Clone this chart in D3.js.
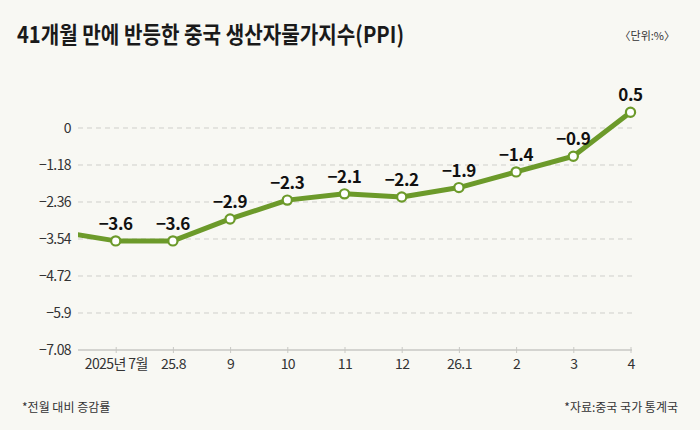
<!DOCTYPE html>
<html>
<head>
<meta charset="utf-8">
<script src="https://cdn.jsdelivr.net/npm/d3@7"></script>
<style>
  html, body { margin: 0; padding: 0; background: #f8f8f3; }
  svg { display: block; }
  text { font-family: "Noto Sans CJK KR", "Noto Sans", sans-serif; }
</style>
</head>
<body>
<div id="chart"></div>
<script>
// Chart data
const months = ["2025년 7월", "25.8", "9", "10", "11", "12", "26.1", "2", "3", "4"];
const values = [-3.6, -3.6, -2.9, -2.3, -2.1, -2.2, -1.9, -1.4, -0.9, 0.5];
const prevValue = -3.3; // June 2025, cut off at the left edge
const yTicks = [0, -1.18, -2.36, -3.54, -4.72, -5.9, -7.08];
const yTickLabels = ["0", "−1.18", "−2.36", "−3.54", "−4.72", "−5.9", "−7.08"];

const width = 700, height = 430;
const margin = {top: 128, right: 68, bottom: 80, left: 78};
const green = "#6c9a2a";

const svg = d3.select("#chart")
  .append("svg")
    .attr("width", width)
    .attr("height", height);

svg.append("rect")
  .attr("width", width).attr("height", height)
  .attr("fill", "#f8f8f3");

// Scales
const x = d3.scaleLinear()
  .domain([0, months.length - 1])
  .range([115.7, 630.5]);

const y = d3.scaleLinear()
  .domain([-7.08, 0])
  .range([height - margin.bottom, margin.top]);

// Title and unit
svg.append("text")
  .attr("x", 17).attr("y", 43)
  .attr("font-size", 23).attr("font-weight", 700)
  .attr("fill", "#1a1a1a")
  .attr("textLength", 387).attr("lengthAdjust", "spacingAndGlyphs")
  .text("41개월 만에 반등한 중국 생산자물가지수(PPI)");

svg.append("text")
  .attr("x", 675).attr("y", 40)
  .attr("text-anchor", "end")
  .attr("font-size", 11).attr("fill", "#333")
  .text("〈단위:%〉");

// Grid lines
svg.append("g")
  .selectAll("line")
  .data(yTicks.filter(d => d !== -7.08))
  .enter().append("line")
    .attr("x1", margin.left).attr("x2", 632)
    .attr("y1", d => y(d)).attr("y2", d => y(d))
    .attr("stroke", "#cfcfcb")
    .attr("stroke-width", 1)
    .attr("stroke-dasharray", "5,4");

// Y axis labels
const yAxis = d3.axisLeft(y)
  .tickValues(yTicks)
  .tickSize(0)
  .tickPadding(7)
  .tickFormat((d, i) => yTickLabels[i]);

svg.append("g")
  .attr("transform", "translate(" + margin.left + ",0)")
  .call(yAxis)
  .call(g => g.select(".domain").remove())
  .call(g => g.selectAll("text")
    .attr("font-size", 14)
    .attr("letter-spacing", -0.6)
    .attr("fill", "#333"));

// X axis
const xAxis = d3.axisBottom(x)
  .tickValues(d3.range(months.length))
  .tickSize(3)
  .tickPadding(6)
  .tickFormat(i => months[i]);

svg.append("g")
  .attr("transform", "translate(0," + (height - margin.bottom) + ")")
  .call(xAxis)
  .call(g => g.select(".domain")
    .attr("d", "M" + margin.left + ",0H632")
    .attr("stroke", "#c8c8c4").attr("stroke-width", 1.5))
  .call(g => g.selectAll(".tick line")
    .attr("y1", -3).attr("y2", 3)
    .attr("stroke", "#c8c8c4"))
  .call(g => g.selectAll("text")
    .attr("font-size", 14)
    .attr("letter-spacing", -0.6)
    .attr("fill", "#333"));

// Line, clipped at the plot's left edge
svg.append("clipPath").attr("id", "plot-clip")
  .append("rect")
    .attr("x", margin.left).attr("y", 0)
    .attr("width", width - margin.left).attr("height", height);

const lineData = [{i: -1, v: prevValue}].concat(values.map((v, i) => ({i, v})));

svg.append("path")
  .datum(lineData)
  .attr("clip-path", "url(#plot-clip)")
  .attr("fill", "none")
  .attr("stroke", green)
  .attr("stroke-width", 5)
  .attr("stroke-linejoin", "round")
  .attr("d", d3.line()
    .x(d => x(d.i))
    .y(d => y(d.v)));

// Points
svg.append("g")
  .selectAll("circle")
  .data(values)
  .enter().append("circle")
    .attr("cx", (d, i) => x(i))
    .attr("cy", d => y(d))
    .attr("r", 4.6)
    .attr("fill", "#fff")
    .attr("stroke", green)
    .attr("stroke-width", 2.2);

// Value labels
svg.append("g")
  .selectAll("text")
  .data(values)
  .enter().append("text")
    .attr("x", (d, i) => x(i))
    .attr("y", d => y(d) - 11)
    .attr("text-anchor", "middle")
    .attr("font-size", 17)
    .attr("font-weight", 700)
    .attr("letter-spacing", -0.4)
    .attr("fill", "#111")
    .text(d => d < 0 ? "−" + Math.abs(d).toFixed(1) : d.toFixed(1));

// Footnotes
svg.append("text")
  .attr("x", 22).attr("y", 412)
  .attr("font-size", 12).attr("fill", "#333")
  .text("*전월 대비 증감률");

svg.append("text")
  .attr("x", 678).attr("y", 412)
  .attr("text-anchor", "end")
  .attr("font-size", 12).attr("fill", "#333")
  .text("*자료:중국 국가 통계국");
</script>
</body>
</html>
